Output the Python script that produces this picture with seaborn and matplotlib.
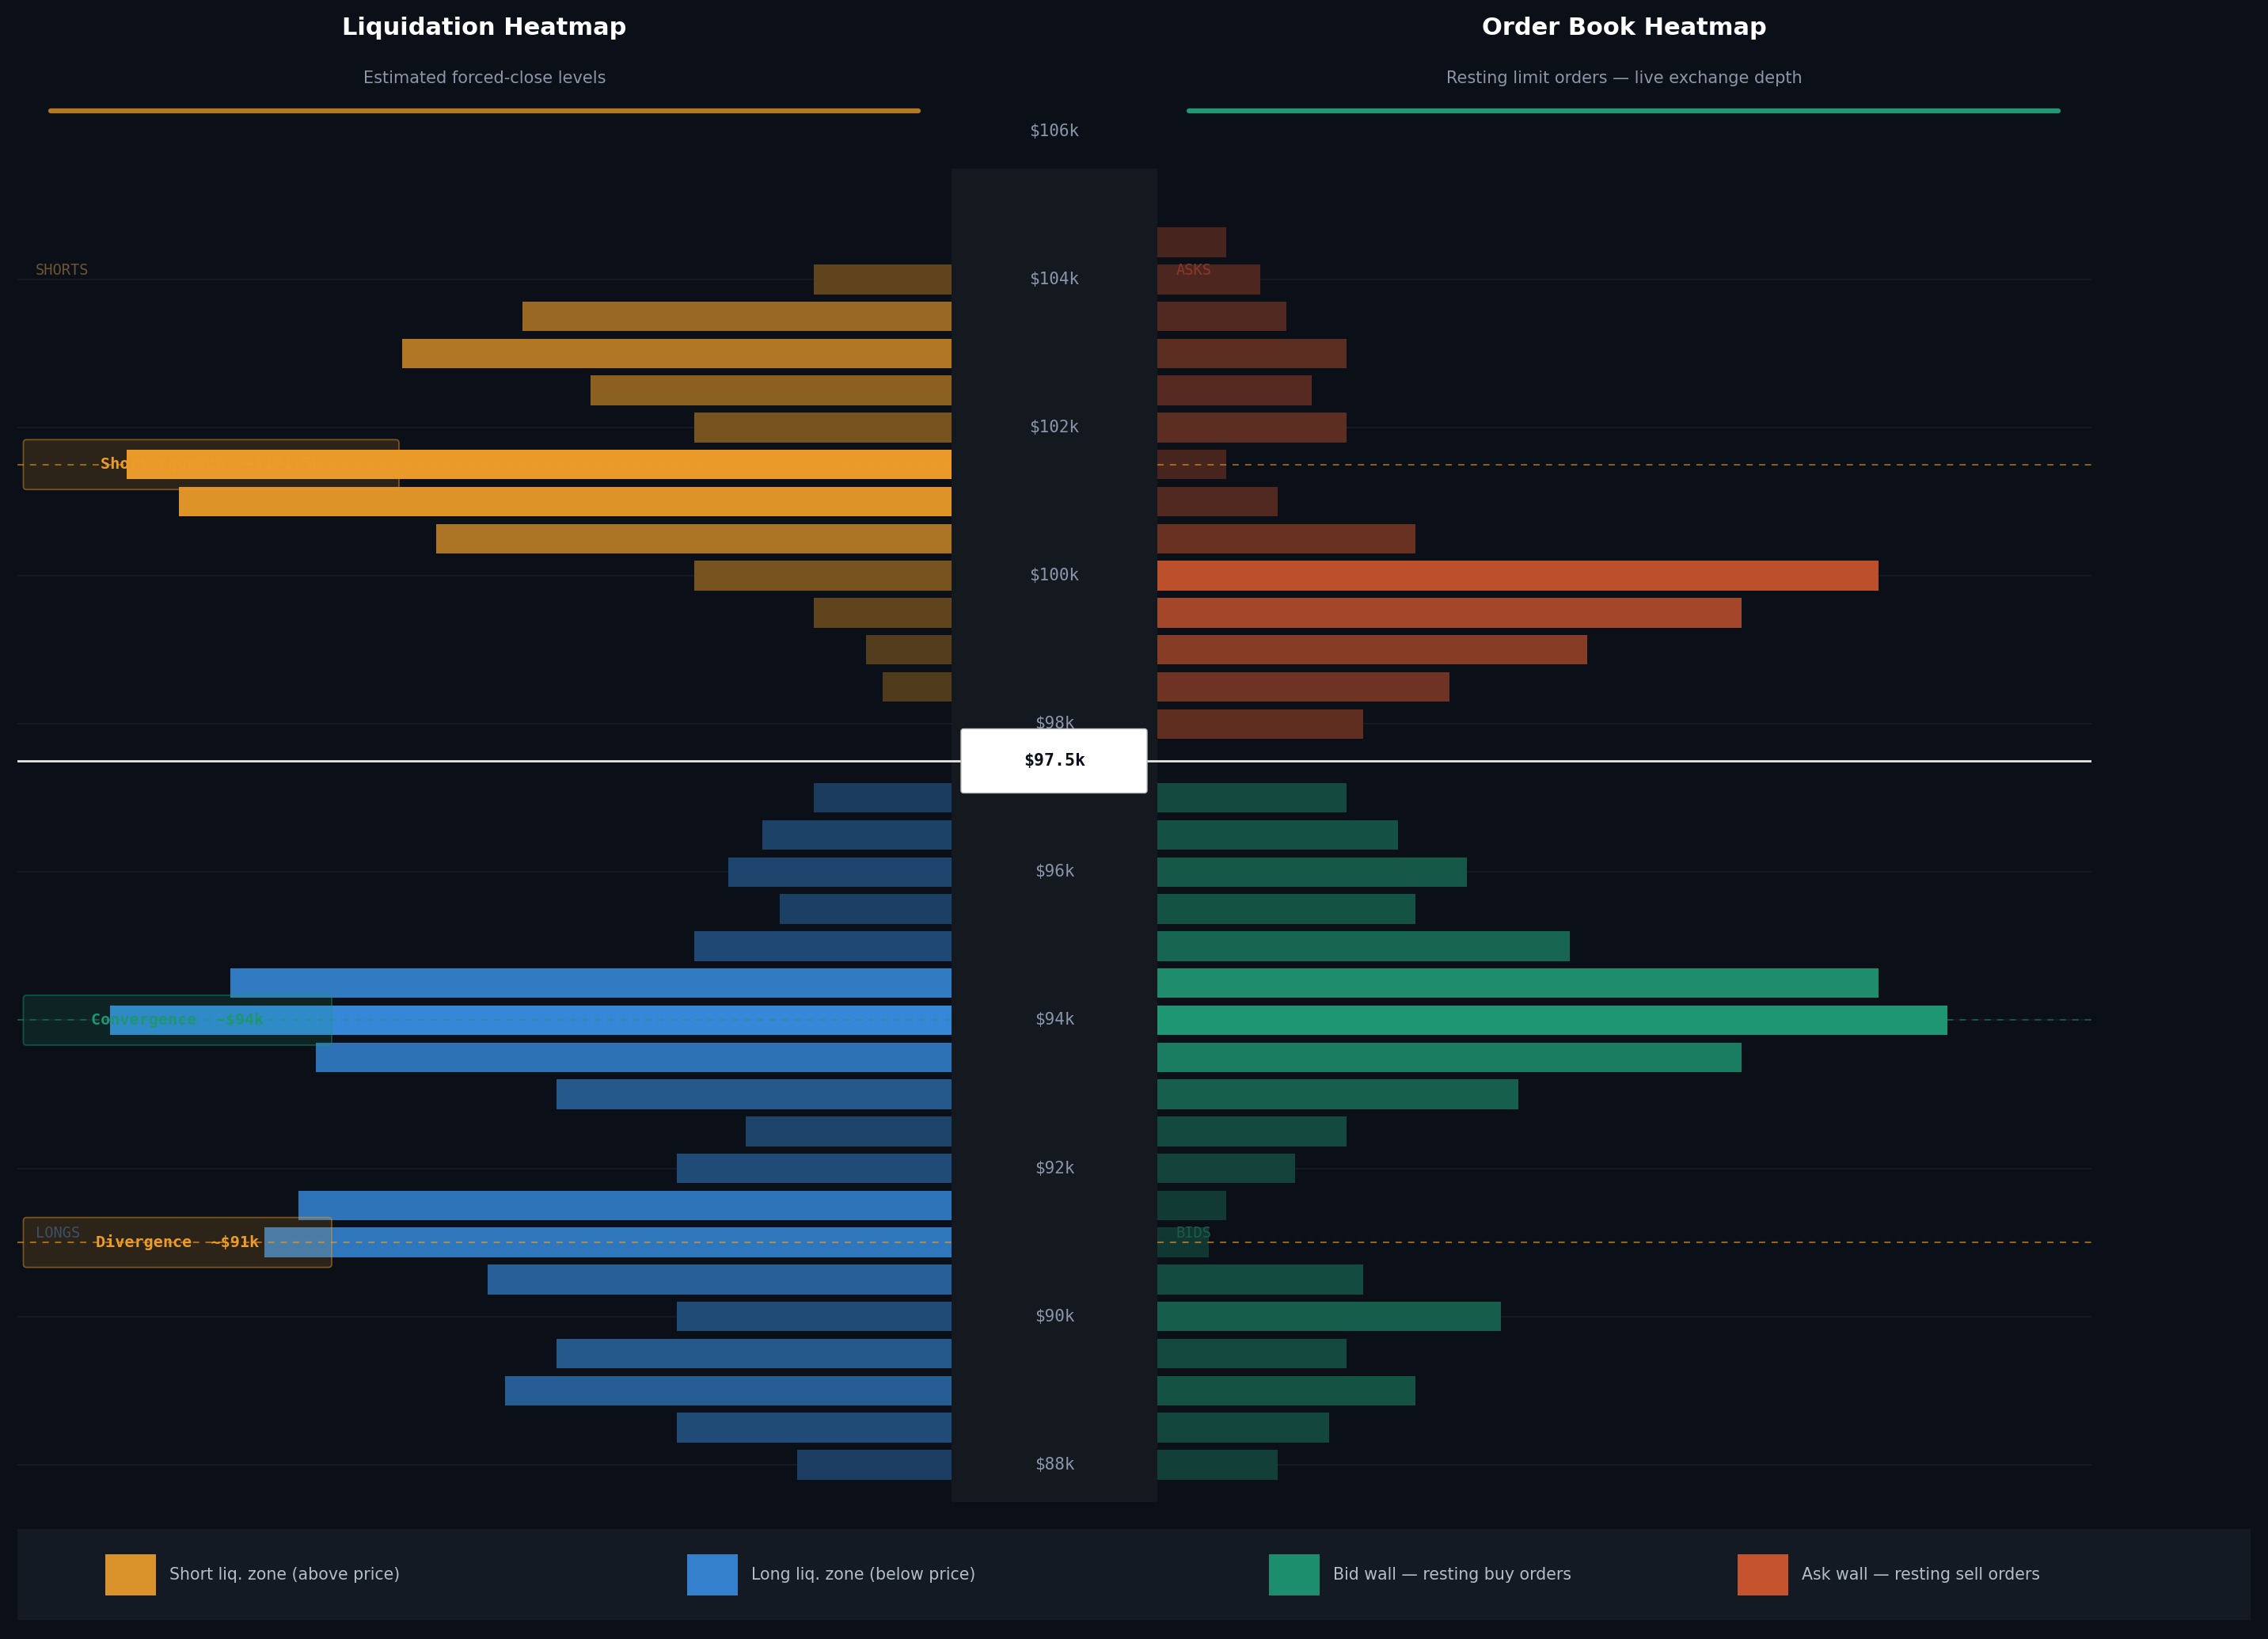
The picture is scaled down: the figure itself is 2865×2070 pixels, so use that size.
import matplotlib
matplotlib.use("Agg")
import numpy as np
import pandas as pd
import matplotlib.pyplot as plt
import seaborn as sns
from matplotlib.patches import Rectangle, FancyBboxPatch
from matplotlib.lines import Line2D
from matplotlib.transforms import blended_transform_factory
from matplotlib.colors import to_rgb

# ---------------- DATA ----------------
short_prices = [104.0, 103.5, 103.0, 102.5, 102.0, 101.5, 101.0, 100.5, 100.0, 99.5, 99.0, 98.5]
short_values = [8, 25, 32, 21, 15, 48, 45, 30, 15, 8, 5, 4]

long_prices = [97.0, 96.5, 96.0, 95.5, 95.0, 94.5, 94.0, 93.5, 93.0, 92.5,
               92.0, 91.5, 91.0, 90.5, 90.0, 89.5, 89.0, 88.5, 88.0]
long_values = [8, 11, 13, 10, 15, 42, 49, 37, 23, 12, 16, 38, 40, 27, 16, 23, 26, 16, 9]

ask_prices = [104.5, 104.0, 103.5, 103.0, 102.5, 102.0, 101.5, 101.0, 100.5,
              100.0, 99.5, 99.0, 98.5, 98.0]
ask_values = [4, 6, 7.5, 11, 9, 11, 4, 7, 15, 42, 34, 25, 17, 12]

bid_prices = [97.0, 96.5, 96.0, 95.5, 95.0, 94.5, 94.0, 93.5, 93.0, 92.5,
              92.0, 91.5, 91.0, 90.5, 90.0, 89.5, 89.0, 88.5, 88.0]
bid_values = [11, 14, 18, 15, 24, 42, 46, 34, 21, 11, 8, 4, 3, 12, 20, 11, 15, 10, 7]

price_ticks = [106, 104, 102, 100, 98, 96, 94, 92, 90, 88]
price_tick_labels = ["$106k", "$104k", "$102k", "$100k", "$98k", "$96k", "$94k", "$92k", "$90k", "$88k"]
grid_prices = [104, 102, 100, 98, 96, 94, 92, 90, 88]

current_price = 97.5
current_label = "$97.5k"

zone_prices = [101.5, 94.0, 91.0]
zone_labels = ["Short squeeze  ~$101.5k", "Convergence  ~$94k", "Divergence  ~$91k"]

legend_labels = ["Short liq. zone (above price)", "Long liq. zone (below price)",
                 "Bid wall \u2014 resting buy orders", "Ask wall \u2014 resting sell orders"]

# ---------------- STYLE ----------------
BG = "#0b0f17"
COL_BG = "#141920"
SHORT_C = "#ec9c29"
LONG_C = "#3588d8"
BID_C = "#1e9672"
ASK_C = "#c8542e"
LEG_COLS = ["#da922a", "#3480cc", "#1c8e6e", "#c4532e"]
MONO = "DejaVu Sans Mono"

W, H = 2865, 2070
fig = plt.figure(figsize=(W / 100, H / 100), dpi=100, facecolor=BG)
sns.set_style("dark")
plt.rcParams["font.family"] = ["DejaVu Sans"]

Y_LO, Y_HI = 87.4, 106.3
PX_PER_K = 93.56
y_top_px = 961 - (Y_HI - 97.5) * PX_PER_K
y_bot_px = 961 + (97.5 - Y_LO) * PX_PER_K
ax_b = 1 - y_bot_px / H
ax_h = (y_bot_px - y_top_px) / H

PANEL_W = 1180
XMAX = PANEL_W / 21.7

axL = fig.add_axes([22 / W, ax_b, PANEL_W / W, ax_h])
axC = fig.add_axes([1202 / W, ax_b, 260 / W, ax_h])
axR = fig.add_axes([1462 / W, ax_b, PANEL_W / W, ax_h])
for a in (axL, axC, axR):
    a.set_facecolor("none")

bg_rgb = np.array(to_rgb(BG))


def shade(base, v, vmax):
    a = 0.25 + 0.75 * v / vmax
    return tuple(np.clip(a * np.array(to_rgb(base)) + (1 - a) * bg_rgb, 0, 1))


def draw_bars(ax, prices, values, base, vmax):
    df = pd.DataFrame({"price": prices, "value": values})
    df["key"] = [f"{p:.1f}" for p in df["price"]]
    pal = {k: shade(base, v, vmax) for k, v in zip(df["key"], df["value"])}
    sns.barplot(data=df, x="value", y="price", hue="key", palette=pal, orient="h",
                native_scale=True, width=0.8, dodge=False, legend=False,
                errorbar=None, saturation=1, linewidth=0, ax=ax, zorder=2)


liq_max = max(max(short_values), max(long_values))
ob_max = max(max(ask_values), max(bid_values))
draw_bars(axL, short_prices, short_values, SHORT_C, liq_max)
draw_bars(axL, long_prices, long_values, LONG_C, liq_max)
draw_bars(axR, ask_prices, ask_values, ASK_C, ob_max)
draw_bars(axR, bid_prices, bid_values, BID_C, ob_max)

axL.set_xlim(XMAX, 0)
axR.set_xlim(0, XMAX)
axC.set_xlim(0, 1)
for a in (axL, axC, axR):
    a.set_ylim(Y_LO, Y_HI)
    a.set_axis_off()

# grid lines
for a in (axL, axR):
    for g in grid_prices:
        a.axhline(g, color="#151b24", lw=1.3, zorder=0.5)

# centre column
axC.add_patch(Rectangle((0, 87.5), 1, 18.0, facecolor=COL_BG, edgecolor="none", zorder=1))
for p, lab in zip(price_ticks, price_tick_labels):
    axC.text(0.5, p, lab, ha="center", va="center", fontsize=15, family=MONO,
             color="#8a96ab", zorder=4)

# zone dashed lines
zone_cols = [SHORT_C, BID_C, SHORT_C]
zone_alpha = [0.55, 0.45, 0.6]
for p, c, al in zip(zone_prices, zone_cols, zone_alpha):
    for a in (axL, axR):
        a.axhline(p, color=c, alpha=al, lw=1.5, ls=(0, (3.8, 3.8)), zorder=3)

# current price line
for a in (axL, axC, axR):
    a.axhline(current_price, color="#e6e6e6", lw=2.0, zorder=3)
box_h = 81 / PX_PER_K
axC.add_patch(FancyBboxPatch(((1214 - 1202) / 260, current_price - box_h / 2),
                             235 / 260, box_h,
                             boxstyle="round,pad=0,rounding_size=0.012",
                             mutation_aspect=260 / PX_PER_K,
                             facecolor="white", edgecolor="#bfbfbf", lw=1, zorder=5))
axC.text(0.5, current_price, current_label, ha="center", va="center", fontsize=15.5,
         family=MONO, fontweight="bold", color="#0b0f17", zorder=6)

# annotation boxes
trL = blended_transform_factory(axL.transAxes, axL.transData)
box_w_px = [474.5, 389.5, 389.5]
ann_h = 63 / PX_PER_K
for p, lab, c, bw in zip(zone_prices, zone_labels, zone_cols, box_w_px):
    x0 = (29.5 - 22) / PANEL_W
    axL.add_patch(FancyBboxPatch((x0, p - ann_h / 2), bw / PANEL_W, ann_h,
                                 boxstyle="round,pad=0,rounding_size=0.0035",
                                 mutation_aspect=PANEL_W / PX_PER_K,
                                 facecolor=c, alpha=0.15, edgecolor="none",
                                 transform=trL, zorder=4))
    axL.add_patch(FancyBboxPatch((x0, p - ann_h / 2), bw / PANEL_W, ann_h,
                                 boxstyle="round,pad=0,rounding_size=0.0035",
                                 mutation_aspect=PANEL_W / PX_PER_K,
                                 facecolor="none", edgecolor=c, alpha=0.45, lw=1.3,
                                 transform=trL, zorder=4))
    axL.text(x0 + bw / PANEL_W / 2, p, lab, transform=trL, ha="center", va="center",
             fontsize=14.5, family=MONO, fontweight="bold", color=c, zorder=5)

# side labels
side = [(axL, 104.0, "SHORTS", "#6b5532"), (axR, 104.0, "ASKS", "#8a3a2a"),
        (axL, 91.0, "LONGS", "#3d5066"), (axR, 91.0, "BIDS", "#1a5c48")]
for a, p, lab, c in side:
    xa = 0.0195 if a is axL else 0.0203
    a.text(xa, p + 0.12, lab, transform=blended_transform_factory(a.transAxes, a.transData),
           ha="left", va="center", fontsize=13.5, family=MONO, color=c, zorder=6)

# titles
fig.text(612 / W, 1 - 35 / H, "Liquidation Heatmap", ha="center", va="center",
         fontsize=22, fontweight="bold", color="white")
fig.text(2052 / W, 1 - 35 / H, "Order Book Heatmap", ha="center", va="center",
         fontsize=22, fontweight="bold", color="white")
fig.text(612 / W, 1 - 99 / H, "Estimated forced-close levels", ha="center", va="center",
         fontsize=15, color="#8b96a8")
fig.text(2052 / W, 1 - 99 / H, "Resting limit orders \u2014 live exchange depth",
         ha="center", va="center", fontsize=15, color="#8b96a8")
fig.add_artist(Line2D([64 / W, 1160 / W], [1 - 140 / H, 1 - 140 / H], color="#b8781e",
                      lw=4.5, solid_capstyle="round", transform=fig.transFigure))
fig.add_artist(Line2D([1502 / W, 2600 / W], [1 - 140 / H, 1 - 140 / H], color="#1e9a74",
                      lw=4.5, solid_capstyle="round", transform=fig.transFigure))

# legend bar
fig.add_artist(Rectangle((22 / W, 1 - 2046 / H), (2843 - 22) / W, 115 / H,
                         facecolor="#131a23", edgecolor="none", transform=fig.transFigure))
sw_x = [133, 868, 1603, 2195]
for sx, c, lab in zip(sw_x, LEG_COLS, legend_labels):
    fig.add_artist(Rectangle((sx / W, 1 - 2015 / H), 64 / W, 52 / H, facecolor=c,
                             edgecolor="none", transform=fig.transFigure))
    fig.text((sx + 81) / W, 1 - 1989 / H, lab, ha="left", va="center", fontsize=14.8,
             color="#b4bcc8")

fig.savefig("out.png", dpi=100, facecolor=BG)
